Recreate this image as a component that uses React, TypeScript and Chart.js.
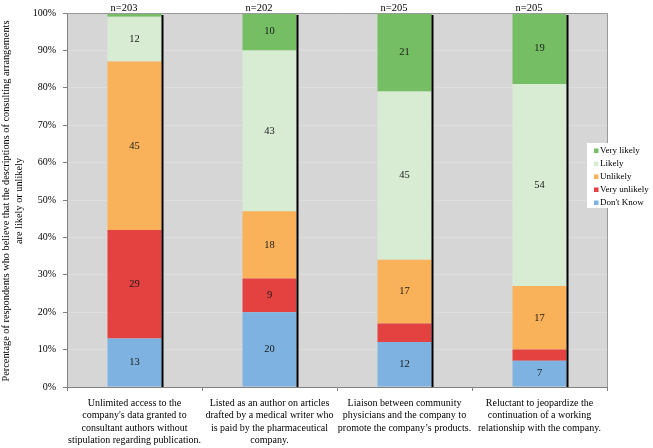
import React, { useEffect, useRef } from 'react';
import { Chart, registerables } from 'chart.js';

Chart.register(...registerables);

const categories: string[][] = [
  ['Unlimited access to the', "company's data granted to", 'consultant authors without', 'stipulation regarding publication.'],
  ['Listed as an author on articles', 'drafted by a medical writer who', 'is paid by the pharmaceutical', 'company.'],
  ['Liaison between community', 'physicians and the company to', 'promote the company\u2019s products.'],
  ['Reluctant to jeopardize the', 'continuation of a working', 'relationship with the company.'],
];
const sampleSizes = ['n=203', 'n=202', 'n=205', 'n=205'];
const dontKnow = [13, 20, 12, 7];
const veryUnlikely = [29, 9, 5, 3];
const unlikely = [45, 18, 17, 17];
const likely = [12, 43, 45, 54];
const veryLikely = [1, 10, 21, 19];
const yTicks = [0, 10, 20, 30, 40, 50, 60, 70, 80, 90, 100];
const yTitle = [
  'Percentage of respondents who believe that the descriptions of consulting arrangements',
  'are likely or unlikely',
];
const labelMin = 7;

const FONT = "'Liberation Serif', 'Times New Roman', serif";
const FS = 10.5;

const seriesNames = ["Don't Know", 'Very unlikely', 'Unlikely', 'Likely', 'Very likely'];
const seriesColors = ['#7EB3E1', '#E34240', '#F9B25A', '#D8EBD3', '#75BE63'];

const decorPlugin = {
  id: 'decor',
  beforeDraw(chart: any) {
    const { ctx, chartArea } = chart;
    ctx.save();
    ctx.fillStyle = '#D6D6D6';
    ctx.fillRect(chartArea.left, chartArea.top, chartArea.right - chartArea.left, chartArea.bottom - chartArea.top);
    ctx.restore();
  },
  afterDraw(chart: any) {
    const { ctx, chartArea } = chart;
    ctx.save();
    // plot border top/right
    ctx.strokeStyle = '#9a9a9a';
    ctx.lineWidth = 1;
    ctx.beginPath();
    ctx.moveTo(chartArea.left, chartArea.top + 0.5);
    ctx.lineTo(chartArea.right + 0.5, chartArea.top + 0.5);
    ctx.lineTo(chartArea.right + 0.5, chartArea.bottom);
    ctx.stroke();

    // y title
    ctx.fillStyle = '#000';
    ctx.font = `10.3px ${FONT}`;
    ctx.textAlign = 'center';
    ctx.textBaseline = 'middle';
    const cy = 201;
    const xs = [6.5, 19];
    yTitle.forEach((t, i) => {
      ctx.save();
      ctx.translate(xs[i], cy);
      ctx.rotate(-Math.PI / 2);
      ctx.fillText(t, 0, 0);
      ctx.restore();
    });

    // legend
    const lx = 587, ly = 143, lw = 64, lh = 65;
    ctx.fillStyle = '#ffffff';
    ctx.fillRect(lx, ly, lw, lh);
    ctx.textAlign = 'left';
    ctx.font = `9px ${FONT}`;
    for (let k = 0; k < seriesNames.length; k++) {
      const idx = seriesNames.length - 1 - k;
      const ry = 151 + k * 13;
      ctx.fillStyle = seriesColors[idx];
      ctx.fillRect(594, ry - 2.5, 4.5, 4.5);
      ctx.fillStyle = '#000';
      ctx.fillText(seriesNames[idx], 600, ry);
    }
    ctx.restore();
  },
  afterDatasetsDraw(chart: any) {
    const { ctx } = chart;
    const yScale = chart.scales.y;
    const base = yScale.getPixelForValue(0);
    ctx.save();
    const n = chart.data.labels.length;
    for (let i = 0; i < n; i++) {
      let top = base;
      let x = 0;
      let w = 0;
      chart.data.datasets.forEach((_: any, di: number) => {
        const el = chart.getDatasetMeta(di).data[i] as any;
        if (!el) return;
        top = Math.min(top, el.y);
        x = el.x;
        w = el.width;
      });
      // black side line
      ctx.fillStyle = '#000';
      ctx.fillRect(x + w / 2, top + 2, 2, base - top - 2);
      // n label
      ctx.font = `${FS}px ${FONT}`;
      ctx.fillStyle = '#000';
      ctx.textAlign = 'left';
      ctx.textBaseline = 'middle';
      ctx.fillText(sampleSizes[i], x - w / 2 + 3, 8);
    }
    // value labels
    chart.data.datasets.forEach((ds: any, di: number) => {
      const meta = chart.getDatasetMeta(di);
      meta.data.forEach((el: any, i: number) => {
        const v = ds.data[i];
        if (v < labelMin) return;
        ctx.font = `${FS}px ${FONT}`;
        ctx.fillStyle = '#1a1a1a';
        ctx.textAlign = 'center';
        ctx.textBaseline = 'middle';
        ctx.fillText(String(v), el.x, (el.y + el.base) / 2);
      });
    });
    ctx.restore();
  },
};

export default function App() {
  const ref = useRef<HTMLCanvasElement>(null);
  useEffect(() => {
    if (!ref.current) return;
    const seriesData = [dontKnow, veryUnlikely, unlikely, likely, veryLikely];
    const chart = new Chart(ref.current, {
      type: 'bar',
      data: {
        labels: categories,
        datasets: seriesNames.map((name, i) => ({
          label: name,
          data: seriesData[i],
          backgroundColor: seriesColors[i],
          borderWidth: 0,
          categoryPercentage: 1,
          barPercentage: 0.4,
        })),
      },
      options: {
        animation: false,
        responsive: true,
        maintainAspectRatio: false,
        layout: { padding: { top: 13, right: 46, left: 0, bottom: 0 } },
        plugins: {
          legend: { display: false },
          tooltip: { enabled: false },
        },
        scales: {
          x: {
            stacked: true,
            afterFit: (s: any) => { s.height = 61; },
            grid: { offset: true, drawOnChartArea: false, tickLength: 4, tickColor: '#808080' },
            border: { color: '#808080' },
            ticks: {
              font: { family: FONT, size: 10, lineHeight: 1.25 },
              color: '#000',
              padding: 6,
              maxRotation: 0,
              autoSkip: false,
            },
          },
          y: {
            stacked: true,
            min: 0,
            max: 100,
            afterFit: (s: any) => { s.width = 67; },
            afterBuildTicks: (s: any) => { s.ticks = yTicks.map((v) => ({ value: v })); },
            grid: { color: '#DEDEDE', tickLength: 4, tickColor: '#808080' },
            border: { color: '#808080' },
            ticks: {
              font: { family: FONT, size: 10 },
              color: '#000',
              padding: 7,
              callback: (v: any) => `${v}%`,
            },
          },
        },
      },
      plugins: [decorPlugin],
    });
    return () => chart.destroy();
  }, []);
  return (
    <div style={{ position: 'fixed', left: 0, top: 0, width: 653, height: 448, background: '#fff' }}>
      <canvas ref={ref} />
    </div>
  );
}
